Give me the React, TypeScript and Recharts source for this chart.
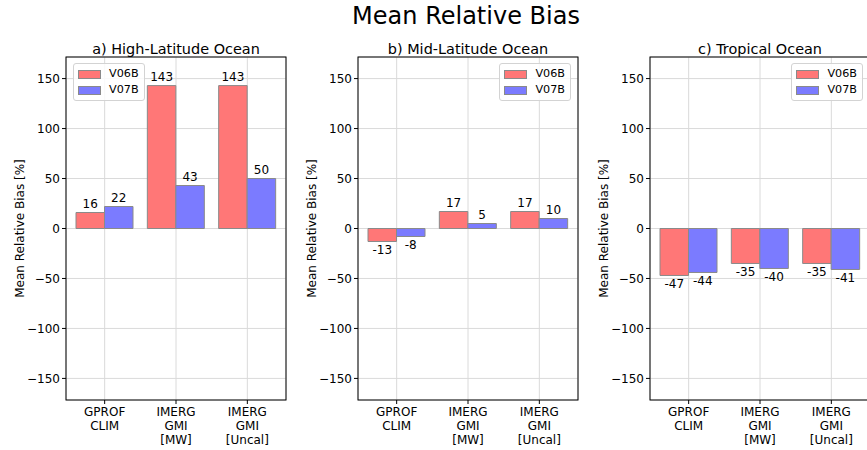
import React from 'react';
import { BarChart, Bar, XAxis, YAxis, CartesianGrid, LabelList, Legend } from 'recharts';

const categories = ['GPROF\nCLIM', 'IMERG\nGMI\n[MW]', 'IMERG\nGMI\n[Uncal]'];
const panelTitles = ['a) High-Latitude Ocean', 'b) Mid-Latitude Ocean', 'c) Tropical Ocean'];
const seriesNames = ['V06B', 'V07B'];
const highLatV06B = [16, 143, 143];
const highLatV07B = [22, 43, 50];
const midLatV06B = [-13, 17, 17];
const midLatV07B = [-8, 5, 10];
const tropV06B = [-47, -35, -35];
const tropV07B = [-44, -40, -41];
const yTicks = [-150, -100, -50, 0, 50, 100, 150];
const yDomain: [number, number] = [-171.6, 171.6];
const mainTitle = 'Mean Relative Bias';
const yLabel = 'Mean Relative Bias [%]';

const FONT = '"DejaVu Sans", Verdana, sans-serif';
const RED = '#ff7777';
const BLUE = '#7b7bff';
const EDGE = '#8a8a8a';
const GRID = '#dadada';

const PLOT_TOP = 57;
const PLOT_W = 220;
const PLOT_H = 343;
const Y_AXIS_W = 66;
const RIGHT_M = 5;
const CHART_W = Y_AXIS_W + PLOT_W + RIGHT_M;
const CHART_H = 450;
const panelLefts = [0, 292, 584];
const legendSides = ['left', 'right', 'right'];

const makeRows = (v6: number[], v7: number[]) =>
  categories.map((name, i) => ({ name, V06B: v6[i], V07B: v7[i] }));

const panelData = [
  makeRows(highLatV06B, highLatV07B),
  makeRows(midLatV06B, midLatV07B),
  makeRows(tropV06B, tropV07B),
];

const fmtY = (v: number) => (v < 0 ? '\u2212' + Math.abs(v) : String(v));

function MultiLineTick(props: any) {
  const { x, y, payload } = props;
  const lines = String(payload.value).split('\n');
  return (
    <g transform={`translate(${x},${y})`}>
      <text textAnchor="middle" fontSize={12} fontFamily={FONT} fill="#000">
        {lines.map((l, i) => (
          <tspan key={i} x={0} y={7.5 + i * 14}>
            {l}
          </tspan>
        ))}
      </text>
    </g>
  );
}

function renderValueLabel(props: any) {
  const vb = props.viewBox && props.viewBox.width !== undefined ? props.viewBox : props;
  const { x, y, width, height } = vb;
  const v = Number(props.value);
  const top = Math.min(y, y + height);
  const bottom = Math.max(y, y + height);
  const cx = x + width / 2;
  return (
    <text
      x={cx}
      y={v >= 0 ? top - 5 : bottom + 12.5}
      textAnchor="middle"
      fontSize={12}
      fontFamily={FONT}
      fill="#000"
    >
      {Math.round(v)}
    </text>
  );
}

function LegendContent(props: any) {
  const payload = props.payload || [];
  return (
    <div
      style={{
        border: '1px solid #d3d3d3',
        borderRadius: 3,
        background: 'rgba(255,255,255,0.85)',
        padding: '2px 5px 2px 4px',
        fontFamily: FONT,
        fontSize: 11.2,
        color: '#000',
        lineHeight: 1,
      }}
    >
      {payload.map((p: any, i: number) => (
        <div key={i} style={{ display: 'flex', alignItems: 'center', height: 16 }}>
          <span
            style={{
              display: 'inline-block',
              width: 23,
              height: 9,
              background: p.color,
              border: `1px solid ${EDGE}`,
              boxSizing: 'border-box',
              marginRight: 8,
            }}
          />
          <span>{p.value}</span>
        </div>
      ))}
    </div>
  );
}

function Panel({ index }: { index: number }) {
  const side = legendSides[index];
  const legendStyle: any =
    side === 'left'
      ? { left: Y_AXIS_W + 7, top: PLOT_TOP + 6, right: 'auto', width: 'auto' }
      : { left: 'auto', right: RIGHT_M + 7, top: PLOT_TOP + 6, width: 'auto' };
  return (
    <div style={{ position: 'absolute', left: panelLefts[index], top: 0 }}>
      <BarChart
        width={CHART_W}
        height={CHART_H}
        data={panelData[index]}
        margin={{ top: PLOT_TOP, right: RIGHT_M, bottom: 0, left: 0 }}
        barGap={0}
      >
        <CartesianGrid stroke={GRID} strokeWidth={1} />
        <XAxis
          dataKey="name"
          padding={{ left: 3, right: 3 }}
          height={CHART_H - PLOT_TOP - PLOT_H}
          axisLine={false}
          tickLine={{ stroke: '#000' }}
          tickSize={4}
          tickMargin={4}
          interval={0}
          tick={<MultiLineTick />}
        />
        <YAxis
          width={Y_AXIS_W}
          domain={yDomain}
          ticks={yTicks}
          type="number"
          allowDataOverflow
          tickFormatter={fmtY}
          axisLine={false}
          tickLine={{ stroke: '#000' }}
          tickSize={4}
          tickMargin={2}
          tick={{ fill: '#000', fontSize: 12, fontFamily: FONT }}
        />
        <Legend
          layout="vertical"
          align="center"
          verticalAlign="middle"
          wrapperStyle={legendStyle}
          content={<LegendContent />}
        />
        <Bar
          dataKey="V06B"
          name={seriesNames[0]}
          fill={RED}
          stroke={EDGE}
          strokeWidth={1}
          barSize={28.5}
          isAnimationActive={false}
        >
          <LabelList dataKey="V06B" content={renderValueLabel} />
        </Bar>
        <Bar
          dataKey="V07B"
          name={seriesNames[1]}
          fill={BLUE}
          stroke={EDGE}
          strokeWidth={1}
          barSize={28.5}
          isAnimationActive={false}
        >
          <LabelList dataKey="V07B" content={renderValueLabel} />
        </Bar>
      </BarChart>
    </div>
  );
}

export default function App() {
  return (
    <div
      style={{
        position: 'absolute',
        left: 0,
        top: 0,
        width: 867,
        height: 450,
        overflow: 'hidden',
        background: '#fff',
      }}
    >
      {[0, 1, 2].map((i) => (
        <Panel key={i} index={i} />
      ))}
      <svg
        width={867}
        height={450}
        style={{ position: 'absolute', left: 0, top: 0, pointerEvents: 'none' }}
      >
        <text x={466} y={24} textAnchor="middle" fontSize={24} fontFamily={FONT} fill="#000">
          {mainTitle}
        </text>
        {[0, 1, 2].map((i) => {
          const px = panelLefts[i] + Y_AXIS_W;
          return (
            <g key={i}>
              <rect x={px} y={PLOT_TOP} width={PLOT_W} height={PLOT_H} fill="none" stroke="#000" strokeWidth={1} />
              <text
                x={px + PLOT_W / 2}
                y={53.5}
                textAnchor="middle"
                fontSize={14.45}
                fontFamily={FONT}
                fill="#000"
              >
                {panelTitles[i]}
              </text>
              <text
                transform={`translate(${panelLefts[i] + 24},${PLOT_TOP + PLOT_H / 2}) rotate(-90)`}
                textAnchor="middle"
                fontSize={12}
                fontFamily={FONT}
                fill="#000"
              >
                {yLabel}
              </text>
            </g>
          );
        })}
      </svg>
    </div>
  );
}
